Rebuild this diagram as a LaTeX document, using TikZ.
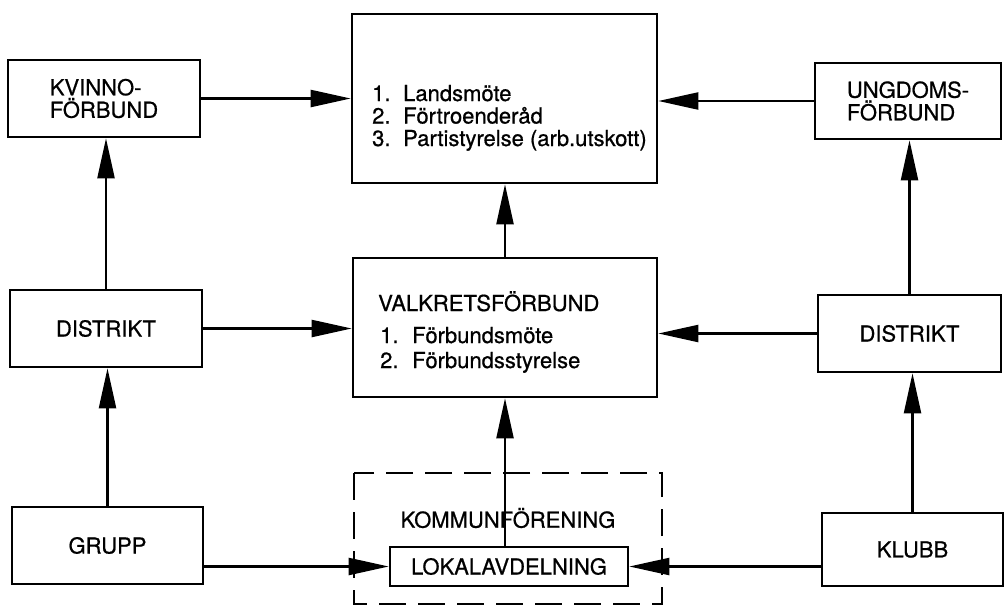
\documentclass[tikz,border=0pt]{standalone}
\usepackage{fontspec}
\setmainfont{TeX Gyre Heros}[FakeBold=0.7]
\usetikzlibrary{arrows.meta}
\begin{document}
\begin{tikzpicture}[x=1pt,y=-1pt,
  font=\fontsize{22}{22.5}\selectfont,
  box/.style={draw,line width=2.6pt,rectangle,inner sep=0pt,align=left},
  conn/.style={line width=2.2pt,-{Triangle[length=40pt,width=17pt]}},
  dbox/.style={draw,line width=2.6pt,dash pattern=on 27pt off 12pt},
  txt/.style={anchor=base west,inner sep=0pt}]
\useasboundingbox (0,0) rectangle (1007,613);
% boxes
\node[box,minimum width=305pt,minimum height=169pt] (top) at (504.5,98.5) {};
\node[box,minimum width=192pt,minimum height=77pt] (kvinno) at (104,98.5) {KVINNO-\\FÖRBUND};
\node[box,minimum width=186pt,minimum height=76pt] (ungdoms) at (908,101) {UNGDOMS-\\FÖRBUND};
\node[box,minimum width=192pt,minimum height=77pt] (distL) at (106,328.5) {DISTRIKT};
\node[box,minimum width=304pt,minimum height=139pt] (valk) at (505,327.5) {};
\node[box,minimum width=183pt,minimum height=77pt] (distR) at (909.5,333.5) {DISTRIKT};
\node[box,minimum width=191pt,minimum height=77pt] (grupp) at (107.5,545.5) {GRUPP};
\node[box,minimum width=181pt,minimum height=73pt] (klubb) at (912.5,549.5) {KLUBB};
\draw[dbox] (354,473) rectangle (662,604);
\node[inner sep=0pt] (kommun) at (508,518) {KOMMUNFÖRENING};
\node[box,minimum width=238pt,minimum height=39pt] (lokal) at (509,566.5) {LOKALAVDELNING};
% texts in top box
\node[txt] (t1) at (372,101) {\makebox[31pt][l]{1.}Landsmöte};
\node[txt] (t2) at (372,123.5) {\makebox[31pt][l]{2.}Förtroenderåd};
\node[txt] (t3) at (372,146) {\makebox[31pt][l]{3.}Partistyrelse (arb.utskott)};
% texts in valkrets box
\node[txt] (v0) at (378,311) {VALKRETSFÖRBUND};
\node[txt] (v1) at (380,343) {\makebox[32pt][l]{1.}Förbundsmöte};
\node[txt] (v2) at (380,368) {\makebox[32pt][l]{2.}Förbundsstyrelse};
% connectors
\draw[conn] (kvinno.east) -- (kvinno.east -| top.west);
\draw[conn] (ungdoms.west) -- (ungdoms.west -| top.east);
\draw[conn] (distL.east) -- (distL.east -| valk.west);
\draw[conn] (distR.west) -- (distR.west -| valk.east);
\draw[conn] (grupp.east |- lokal.west) -- (lokal.west);
\draw[conn] (klubb.west |- lokal.east) -- (lokal.east);
\draw[conn] (distL.north) -- (distL.north |- kvinno.south);
\draw[conn] (grupp.north) -- (grupp.north |- distL.south);
\draw[conn] (distR.north) -- (distR.north |- ungdoms.south);
\draw[conn] (klubb.north) -- (klubb.north |- distR.south);
\draw[conn] (valk.north) -- (valk.north |- top.south);
\draw[conn] (lokal.north -| valk.south) -- (valk.south);
\end{tikzpicture}
\end{document}
